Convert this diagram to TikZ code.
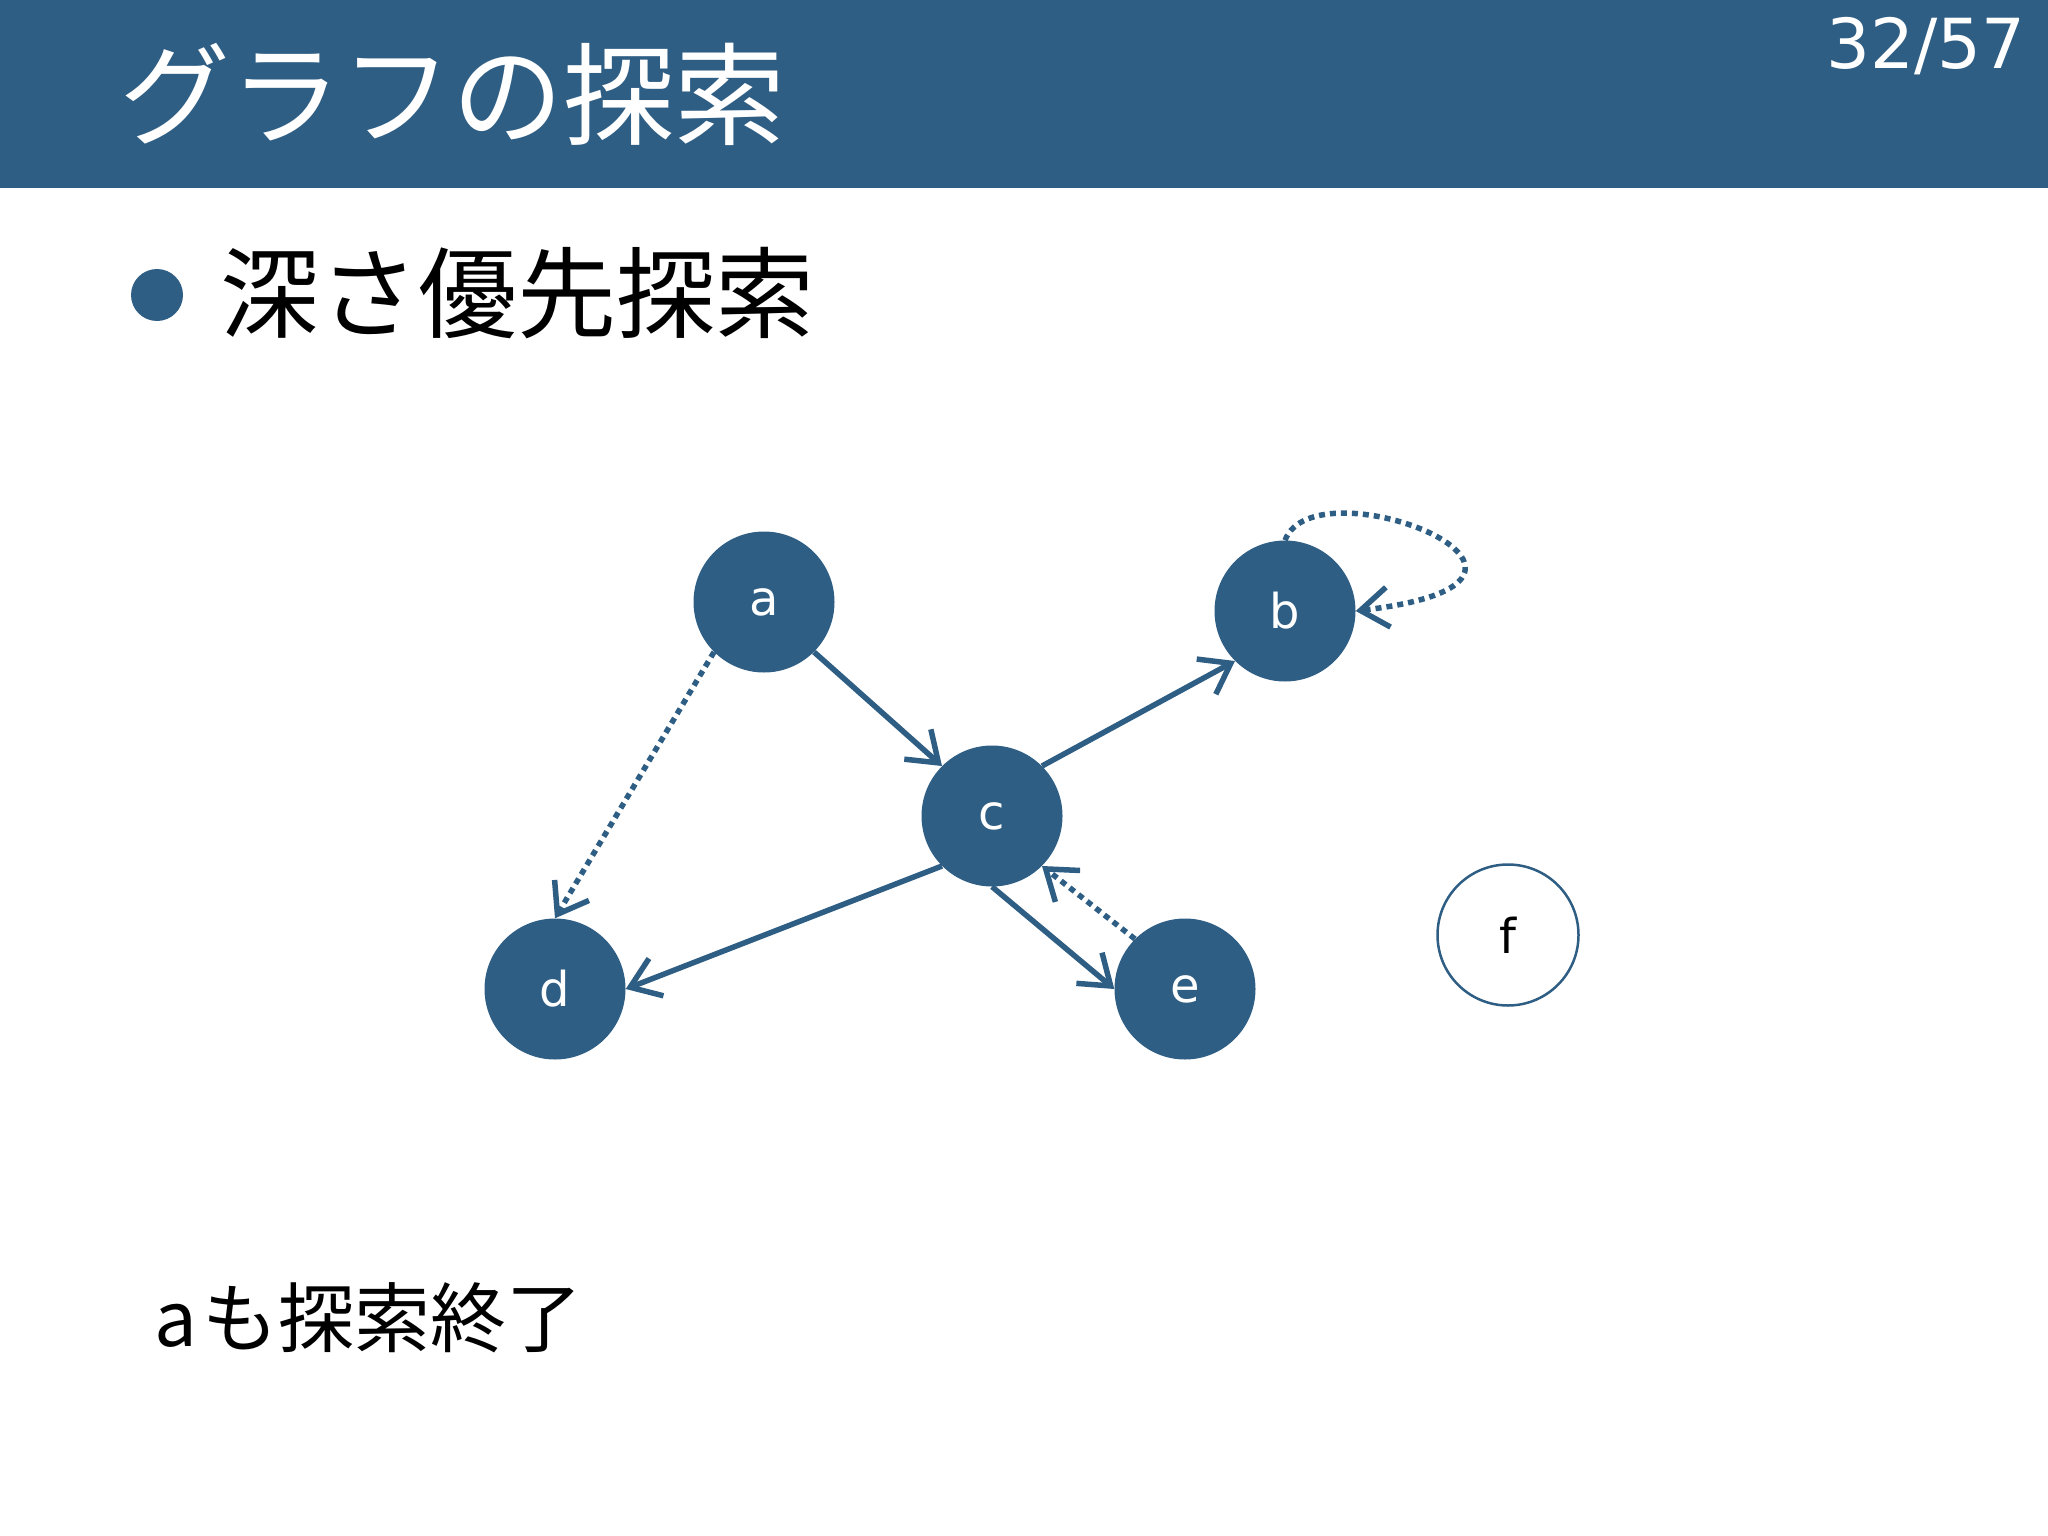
\documentclass[tikz,border=0pt]{standalone}
\usepackage{fontspec}
\newfontfamily\jpfont{Noto Sans CJK JP}
\newfontfamily\dvfont{DejaVu Sans}
\usetikzlibrary{arrows.meta}
\definecolor{mainblue}{RGB}{47,94,132}
\tikzset{
  vert/.style={circle, fill=mainblue, minimum size=141pt, inner sep=0pt, text=white, font=\dvfont\fontsize{48}{48}\selectfont},
  vertopen/.style={circle, draw=mainblue, line width=2.5pt, fill=white, minimum size=141pt, inner sep=0pt, text=black, font=\dvfont\fontsize{48}{48}\selectfont},
  edgeline/.style={draw=mainblue, line width=5.5pt, -{Straight Barb[length=28pt,width=40pt]}},
  dotedge/.style={edgeline, dash pattern=on 6pt off 5pt},
}
\begin{document}
\begin{tikzpicture}[x=1pt,y=-1pt]
\useasboundingbox (0,0) rectangle (2048,1536);
\fill[white] (0,0) rectangle (2048,188);
\fill[mainblue] (0,0) rectangle (2048,188);
\node[anchor=west, text=white, font=\jpfont\fontsize{111}{111}\selectfont, inner sep=0pt] (title) at (119,94) {グラフの探索};
\node[anchor=north east, text=white, font=\dvfont\fontsize{69}{69}\selectfont, inner sep=0pt] (page) at (2026,17) {32/57};
\node[circle, fill=mainblue, minimum size=52pt, inner sep=0pt] (bullet) at (157,295) {};
\node[anchor=west, text=black, font=\jpfont\fontsize{99}{99}\selectfont, inner sep=0pt] (head) at (220,293) {深さ優先探索};

\node[vert] (a) at (764,602) {a};
\node[vert] (b) at (1285,611) {b};
\node[vert] (c) at (992,816) {c};
\node[vert] (d) at (555,989) {d};
\node[vert] (e) at (1185,989) {e};
\node[vertopen] (f) at (1508,935) {f};

\draw[edgeline] (a.south east) -- (c.north west);
\draw[dotedge] (a.south west) -- (d.north);
\draw[edgeline] (c.north east) -- (b.south west);
\draw[edgeline] (c.south west) -- (d.east);
\draw[edgeline] (c.south) -- (e.west);
\draw[dotedge] (e.north west) -- (c.south east);
\draw[dotedge] (b.north) .. controls (1315,460) and (1620,580) .. (b.east);

\node[anchor=west, text=black, font=\jpfont\fontsize{76}{76}\selectfont, inner sep=0pt] (note) at (154,1318) {a\hspace{6pt}も探索終了};
\end{tikzpicture}
\end{document}
